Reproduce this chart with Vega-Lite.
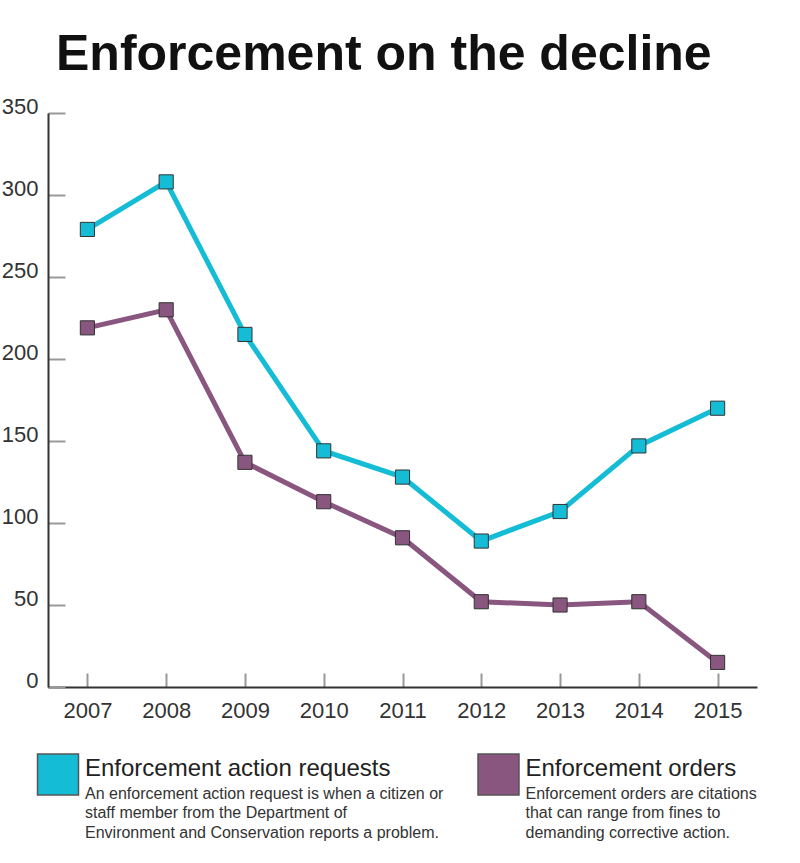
{
  "$schema": "https://vega.github.io/schema/vega-lite/v6.json",
  "width": 709,
  "height": 574,
  "autosize": {"type": "none"},
  "padding": {"left": 48, "top": 113, "right": 43, "bottom": 176},
  "background": "white",
  "config": {
    "view": {"stroke": null},
    "font": "Liberation Sans",
    "axis": {"grid": false}
  },
  "title": {
    "text": "Enforcement on the decline",
    "anchor": "start",
    "frame": "group",
    "baseline": "alphabetic",
    "offset": -25,
    "dx": 8,
    "font": "Liberation Sans",
    "fontSize": 50,
    "fontWeight": "bold",
    "color": "#111111"
  },
  "datasets": {
    "series": [
      {"year": "2007", "series": "Enforcement action requests", "count": 279},
      {"year": "2008", "series": "Enforcement action requests", "count": 308},
      {"year": "2009", "series": "Enforcement action requests", "count": 215},
      {"year": "2010", "series": "Enforcement action requests", "count": 144},
      {"year": "2011", "series": "Enforcement action requests", "count": 128},
      {"year": "2012", "series": "Enforcement action requests", "count": 89},
      {"year": "2013", "series": "Enforcement action requests", "count": 107},
      {"year": "2014", "series": "Enforcement action requests", "count": 147},
      {"year": "2015", "series": "Enforcement action requests", "count": 170},
      {"year": "2007", "series": "Enforcement orders", "count": 219},
      {"year": "2008", "series": "Enforcement orders", "count": 230},
      {"year": "2009", "series": "Enforcement orders", "count": 137},
      {"year": "2010", "series": "Enforcement orders", "count": 113},
      {"year": "2011", "series": "Enforcement orders", "count": 91},
      {"year": "2012", "series": "Enforcement orders", "count": 52},
      {"year": "2013", "series": "Enforcement orders", "count": 50},
      {"year": "2014", "series": "Enforcement orders", "count": 52},
      {"year": "2015", "series": "Enforcement orders", "count": 15}
    ],
    "key": [
      {"series": "Enforcement action requests", "description": "An enforcement action request is when a citizen or\nstaff member from the Department of\nEnvironment and Conservation reports a problem."},
      {"series": "Enforcement orders", "description": "Enforcement orders are citations\nthat can range from fines to\ndemanding corrective action."}
    ]
  },
  "resolve": {"scale": {"x": "independent"}},
  "layer": [
    {
      "data": {"name": "series"},
      "layer": [
        {
          "mark": {"type": "line", "strokeWidth": 5},
          "encoding": {
            "x": {
              "field": "year", "type": "ordinal",
              "scale": {"type": "point", "padding": 0.5},
              "axis": {
                "title": null, "labelAngle": 0,
                "domainColor": "#333333", "domainWidth": 2,
                "tickColor": "#999999", "tickWidth": 2, "tickSize": -14,
                "labelFontSize": 22, "labelColor": "#333333", "labelPadding": 27
              }
            },
            "y": {
              "field": "count", "type": "quantitative",
              "scale": {"domain": [0, 350], "nice": false},
              "axis": {
                "title": null, "values": [0, 50, 100, 150, 200, 250, 300, 350],
                "domainColor": "#333333", "domainWidth": 2,
                "tickColor": "#999999", "tickWidth": 2, "tickSize": -17,
                "labelFontSize": 22, "labelColor": "#333333", "labelPadding": 27,
                "labelBaseline": "alphabetic"
              }
            },
            "color": {
              "field": "series", "type": "nominal",
              "scale": {"domain": ["Enforcement action requests", "Enforcement orders"], "range": ["#14BCD6", "#88567F"]},
              "legend": null
            },
            "order": {"field": "year"}
          }
        },
        {
          "mark": {"type": "point", "shape": "square", "filled": true, "size": 200, "stroke": "#333333", "strokeWidth": 1, "opacity": 1},
          "encoding": {
            "x": {"field": "year", "type": "ordinal"},
            "y": {"field": "count", "type": "quantitative"},
            "color": {"field": "series", "type": "nominal", "legend": null}
          }
        }
      ]
    },
    {
      "data": {"name": "key"},
      "layer": [
        {
          "mark": {"type": "point", "shape": "square", "filled": true, "size": 1680, "stroke": "#555555", "strokeWidth": 1.5, "opacity": 1},
          "encoding": {
            "x": {"field": "series", "type": "nominal", "scale": {"type": "point", "range": [10, 450.5], "padding": 0}, "axis": null},
            "y": {"datum": -53.4, "type": "quantitative"},
            "color": {"field": "series", "type": "nominal", "legend": null}
          }
        },
        {
          "mark": {"type": "text", "align": "left", "baseline": "alphabetic", "dx": 27, "fontSize": 24, "color": "#222222"},
          "encoding": {
            "x": {"field": "series", "type": "nominal", "axis": null},
            "y": {"datum": -54.5, "type": "quantitative"},
            "text": {"field": "series"}
          }
        },
        {
          "mark": {"type": "text", "align": "left", "baseline": "alphabetic", "dx": 27, "fontSize": 16, "lineHeight": 19.7, "lineBreak": "\n", "color": "#333333"},
          "encoding": {
            "x": {"field": "series", "type": "nominal", "axis": null},
            "y": {"datum": -68.0, "type": "quantitative"},
            "text": {"field": "description"}
          }
        }
      ]
    }
  ]
}
